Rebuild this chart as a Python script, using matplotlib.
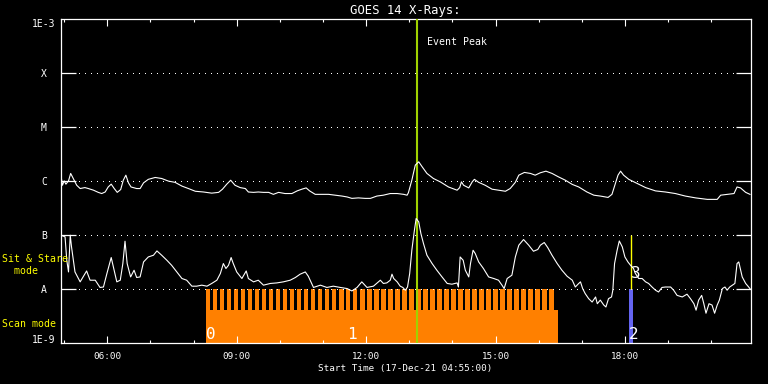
import matplotlib
matplotlib.use("Agg")
import matplotlib.pyplot as plt
import matplotlib.transforms as mtransforms
from matplotlib.ticker import FixedLocator, MultipleLocator, NullLocator
import numpy as np

plt.rcParams['font.family'] = ['DejaVu Sans Mono', 'DejaVu Sans']

# ---------------- data ----------------
t_start = 4 + 55 / 60.0          # 04:55 UT
t_end = t_start + 16.0           # 20:55 UT

# GOES long channel (1-8 A), hours UT / flux in units of 1e-6 W m^-2
long_t = [4.93, 4.96, 5.00, 5.04, 5.10, 5.15, 5.21, 5.29, 5.37, 5.48,
          5.56, 5.68, 5.79, 5.87, 5.95, 6.02, 6.09, 6.16, 6.23, 6.31,
          6.37, 6.43, 6.49, 6.55, 6.68, 6.76, 6.84, 6.95, 7.11, 7.26,
          7.42, 7.57, 7.73, 7.88, 8.04, 8.23, 8.42, 8.58, 8.67, 8.77,
          8.86, 8.96, 9.08, 9.20, 9.27, 9.39, 9.50, 9.62, 9.74, 9.85,
          9.97, 10.12, 10.28, 10.40, 10.51, 10.61, 10.69, 10.82, 10.98, 11.13,
          11.28, 11.44, 11.56, 11.67, 11.82, 11.98, 12.10, 12.25, 12.40, 12.56,
          12.72, 12.87, 12.95, 12.98, 13.06, 13.14, 13.22, 13.30, 13.41, 13.56,
          13.72, 13.91, 14.11, 14.17, 14.21, 14.26, 14.38, 14.46, 14.51, 14.61,
          14.76, 14.92, 15.07, 15.23, 15.34, 15.46, 15.54, 15.67, 15.81, 15.92,
          16.04, 16.17, 16.31, 16.46, 16.62, 16.78, 16.93, 17.12, 17.28, 17.43,
          17.61, 17.70, 17.78, 17.84, 17.90, 17.97, 18.09, 18.28, 18.48, 18.71,
          18.94, 19.17, 19.40, 19.64, 19.91, 20.14, 20.22, 20.37, 20.53, 20.60,
          20.68, 20.80, 20.90]
long_flux_e6 = [1.20, 0.84, 1.01, 0.88, 1.01, 1.39, 1.12, 0.84, 0.73, 0.76,
                0.73, 0.68, 0.62, 0.59, 0.63, 0.78, 0.88, 0.73, 0.62, 0.70,
                1.04, 1.29, 0.93, 0.78, 0.73, 0.73, 0.93, 1.08, 1.17, 1.12,
                1.00, 0.95, 0.81, 0.73, 0.65, 0.63, 0.60, 0.62, 0.71, 0.88,
                1.04, 0.84, 0.76, 0.73, 0.63, 0.62, 0.63, 0.62, 0.62, 0.57,
                0.62, 0.59, 0.59, 0.66, 0.71, 0.75, 0.66, 0.57, 0.57, 0.57,
                0.55, 0.53, 0.51, 0.48, 0.49, 0.48, 0.48, 0.53, 0.55, 0.59,
                0.59, 0.57, 0.55, 0.61, 1.04, 1.98, 2.28, 1.84, 1.39, 1.12,
                0.97, 0.78, 0.68, 0.76, 0.97, 0.84, 0.75, 0.97, 1.08, 0.95,
                0.84, 0.71, 0.68, 0.65, 0.73, 0.95, 1.29, 1.45, 1.39, 1.29,
                1.43, 1.53, 1.39, 1.20, 1.04, 0.87, 0.78, 0.63, 0.55, 0.53,
                0.50, 0.57, 0.91, 1.29, 1.53, 1.29, 1.08, 0.91, 0.76, 0.66,
                0.63, 0.59, 0.53, 0.49, 0.46, 0.46, 0.55, 0.57, 0.59, 0.78,
                0.75, 0.62, 0.57]

# GOES short channel (0.5-4 A), hours UT / flux in units of 1e-8 W m^-2
short_t = [4.93, 5.02, 5.06, 5.10, 5.14, 5.17, 5.25, 5.37, 5.52, 5.60,
           5.72, 5.83, 5.91, 5.99, 6.09, 6.14, 6.22, 6.30, 6.36, 6.41,
           6.46, 6.54, 6.62, 6.68, 6.76, 6.84, 6.95, 7.07, 7.15, 7.26,
           7.38, 7.49, 7.61, 7.73, 7.84, 7.96, 8.07, 8.19, 8.31, 8.42,
           8.54, 8.62, 8.69, 8.75, 8.81, 8.87, 8.92, 9.00, 9.12, 9.22,
           9.27, 9.39, 9.50, 9.62, 9.78, 9.93, 10.08, 10.24, 10.36, 10.47,
           10.59, 10.66, 10.78, 10.94, 11.09, 11.24, 11.40, 11.56, 11.67, 11.79,
           11.90, 12.02, 12.17, 12.33, 12.40, 12.48, 12.56, 12.60, 12.64, 12.72,
           12.79, 12.85, 12.91, 12.96, 13.01, 13.06, 13.12, 13.16, 13.22, 13.27,
           13.33, 13.41, 13.53, 13.64, 13.76, 13.88, 13.99, 14.11, 14.14, 14.18,
           14.25, 14.30, 14.38, 14.42, 14.48, 14.53, 14.61, 14.72, 14.84, 14.96,
           15.07, 15.15, 15.20, 15.27, 15.38, 15.46, 15.54, 15.65, 15.77, 15.88,
           15.98, 16.04, 16.13, 16.21, 16.31, 16.43, 16.54, 16.66, 16.78, 16.85,
           16.93, 16.97, 17.02, 17.08, 17.16, 17.24, 17.32, 17.36, 17.43, 17.51,
           17.56, 17.62, 17.69, 17.72, 17.76, 17.82, 17.87, 17.94, 18.00, 18.07,
           18.13, 18.20, 18.24, 18.32, 18.40, 18.48, 18.55, 18.63, 18.71, 18.78,
           18.86, 18.94, 19.06, 19.13, 19.21, 19.33, 19.44, 19.52, 19.60, 19.65,
           19.71, 19.78, 19.83, 19.88, 19.95, 20.02, 20.08, 20.14, 20.19, 20.26,
           20.32, 20.37, 20.43, 20.49, 20.55, 20.60, 20.64, 20.72, 20.80, 20.87,
           20.91]
short_flux_e8 = [10.0, 9.3, 3.44, 2.09, 10.0, 6.07, 2.09, 1.37, 2.18, 1.47,
                 1.47, 1.08, 1.10, 1.95, 3.86, 2.59, 1.37, 1.47, 2.99, 7.74,
                 2.99, 1.69, 2.25, 1.65, 1.69, 3.20, 3.96, 4.26, 5.12, 4.26,
                 3.44, 2.78, 2.09, 1.58, 1.47, 1.14, 1.14, 1.19, 1.14, 1.28,
                 1.47, 1.95, 2.99, 2.42, 2.78, 3.86, 2.99, 2.09, 1.58, 2.18,
                 1.58, 1.37, 1.47, 1.19, 1.28, 1.31, 1.37, 1.47, 1.65, 1.90,
                 2.09, 1.74, 1.08, 1.19, 1.08, 1.14, 1.08, 1.03, 0.93, 1.08,
                 1.37, 1.08, 1.14, 1.47, 1.28, 1.31, 1.47, 1.90, 1.58, 1.37,
                 1.14, 1.08, 0.96, 1.10, 1.95, 5.27, 12.4, 20.4, 17.6, 10.75,
                 7.02, 4.26, 2.99, 2.25, 1.69, 1.28, 1.24, 1.31, 1.10, 3.96,
                 3.44, 2.25, 1.69, 2.99, 5.27, 4.58, 3.20, 2.42, 1.69, 1.58,
                 1.47, 1.19, 1.03, 1.58, 1.82, 3.96, 6.53, 8.32, 6.53, 5.05,
                 5.44, 6.53, 7.32, 5.92, 4.26, 2.99, 2.25, 1.74, 1.47, 1.10,
                 1.28, 1.37, 1.03, 0.83, 0.67, 0.58, 0.72, 0.54, 0.63, 0.51,
                 0.47, 0.67, 0.72, 0.96, 2.99, 5.27, 7.84, 6.07, 3.96, 3.20,
                 2.78, 2.42, 1.98, 1.58, 1.58, 1.37, 1.28, 1.10, 0.96, 0.89,
                 1.08, 1.10, 1.10, 0.96, 0.77, 0.72, 0.81, 0.67, 0.54, 0.41,
                 0.63, 0.77, 0.54, 0.36, 0.54, 0.51, 0.36, 0.51, 0.63, 1.03,
                 1.10, 0.96, 1.10, 1.19, 1.28, 2.99, 3.20, 1.69, 1.28, 1.10,
                 1.00]

# GOES class levels
class_levels = [1e-8, 1e-7, 1e-6, 1e-5, 1e-4]
class_labels = ['A', 'B', 'C', 'M', 'X']

# event peak time (hours UT)
event_peak = 13.17

# IRIS-like observations
scan_start, scan_end = 8.29, 16.45          # scan-mode block
raster_starts = [8.290, 8.452, 8.615, 8.777, 8.940, 9.102, 9.264, 9.427, 9.589, 9.752,
                 9.914, 10.076, 10.239, 10.401, 10.564, 10.726, 10.888, 11.051, 11.213, 11.376,
                 11.538, 11.700, 11.863, 12.025, 12.188, 12.350, 12.512, 12.675, 12.837, 13.000,
                 13.162, 13.324, 13.487, 13.649, 13.812, 13.974, 14.136, 14.299, 14.461, 14.624,
                 14.786, 14.948, 15.111, 15.273, 15.436, 15.598, 15.760, 15.923, 16.085, 16.248]
raster_dur = 0.10
obs_ids = ['0', '1', '2', '3']
obs_times = [8.29, 11.56, 18.10, 18.15]
obs2_end = 18.18
obs3_time = 18.15

# ---------------- figure ----------------
W, H = 768, 384
fig = plt.figure(figsize=(W / 100, H / 100), dpi=100, facecolor='black')
L, R, T, B = 60.6, 750.7, 19.0, 343.3
ax = fig.add_axes([L / W, 1 - B / H, (R - L) / W, (B - T) / H], facecolor='black')
ax.set_yscale('log')
ax.set_xlim(t_start, t_end)
ax.set_ylim(1e-9, 1e-3)

white = 'white'
orange = '#ff8000'
blue = '#6464f0'
yellow = '#ffff00'
green = '#a0d200'

for s in ax.spines.values():
    s.set_color(white)
    s.set_linewidth(0.9)

# x ticks
ax.xaxis.set_major_locator(FixedLocator([6, 9, 12, 15, 18]))
ax.xaxis.set_minor_locator(MultipleLocator(1))
ax.set_xticklabels(['06:00', '09:00', '12:00', '15:00', '18:00'])
ax.tick_params(axis='x', which='both', direction='in', top=True, bottom=True,
               colors=white, width=0.8)
ax.tick_params(axis='x', which='major', length=5, labelsize=6.7, pad=6.2)
ax.tick_params(axis='x', which='minor', length=2.5)

# y ticks (class letters)
ax.yaxis.set_major_locator(FixedLocator(class_levels))
ax.yaxis.set_minor_locator(NullLocator())
ax.tick_params(axis='y', which='major', direction='in', left=True, right=True,
               length=10.8, width=0.9, colors=white, labelleft=False)
ytr = mtransforms.blended_transform_factory(ax.transAxes, ax.transData)
xlab = (44 - L) / (R - L)
for lev, lab in zip(class_levels, class_labels):
    ax.text(xlab, lev, lab, transform=ytr, ha='center', va='center_baseline',
            color=white, fontsize=7)
ax.text(xlab, 1e-3, '1E-3', transform=ytr, ha='center', va='top', color=white, fontsize=7)
ax.text(xlab, 1e-9, '1E-9', transform=ytr, ha='center', va='baseline', color=white, fontsize=7)

# dotted class lines
for lev in class_levels:
    ax.axhline(lev, color=white, lw=0.72, linestyle=(0, (1, 5.5)), zorder=2,
               antialiased=False)

# scan mode block + raster comb
block_top = 33.6 / (B - T)
ax.axvspan(scan_start, scan_end, ymin=0, ymax=block_top, color=orange, lw=0,
           antialiased=False, zorder=1)
for rs in raster_starts:
    ax.axvspan(rs, rs + raster_dur, ymin=block_top, ymax=1 / 6, color=orange, lw=0,
               antialiased=False, zorder=1)

# obs 2 (scan, blue) and obs 3 (sit & stare, yellow)
ax.axvspan(obs_times[2], obs2_end, ymin=0, ymax=1 / 6, color=blue, lw=0,
           antialiased=False, zorder=1)
ax.vlines(obs3_time, 1e-8, 1e-7, color=yellow, lw=1.0, zorder=2)

# event peak
ax.axvline(event_peak, color=green, lw=1.5, zorder=3)
xtr = mtransforms.blended_transform_factory(ax.transData, ax.transAxes)
ax.annotate('Event Peak', xy=(event_peak, (B - 42.3) / (B - T)), xycoords=xtr,
            xytext=(7.2, 0), textcoords='offset points', ha='left', va='center',
            color=white, fontsize=7.1)

# GOES curves
ax.plot(long_t, np.array(long_flux_e6) * 1e-6, color=white, lw=0.8, zorder=4)
ax.plot(short_t, np.array(short_flux_e8) * 1e-8, color=white, lw=0.8, zorder=4)

# observation labels
for oid, ot in zip(obs_ids, obs_times):
    yb = 0.2023 if oid == '3' else 0.013
    ax.text(ot, yb, oid, transform=xtr, ha='left', va='baseline',
            color=white, fontsize=11.5, zorder=5)

# titles
ax.set_title('GOES 14 X-Rays:', color=white, fontsize=8.8, pad=3.6)
ax.set_xlabel('Start Time (17-Dec-21 04:55:00)', color=white, fontsize=6.7)
ax.xaxis.set_label_coords(0.5, (B - 369) / (B - T))
ax.xaxis.label.set_va('center')

# mode labels
fig.text(2 / W, 1 - 265 / H, 'Sit & Stare\n  mode', color=yellow, fontsize=7.1,
         ha='left', va='center', linespacing=1.2)
fig.text(2 / W, 1 - 324 / H, 'Scan mode', color=yellow, fontsize=7.1,
         ha='left', va='center')

fig.savefig('out.png', dpi=100, facecolor='black')
